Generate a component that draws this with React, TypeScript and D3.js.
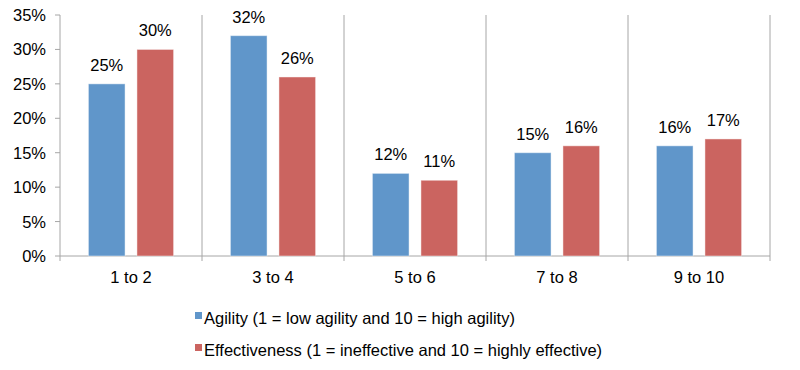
import React from "react";
import * as d3 from "d3";

const categories = ["1 to 2", "3 to 4", "5 to 6", "7 to 8", "9 to 10"];
const agility = [25, 32, 12, 15, 16];
const effectiveness = [30, 26, 11, 16, 17];
const yTicks = [0, 5, 10, 15, 20, 25, 30, 35];
const seriesNames = [
  "Agility (1 = low agility and 10 = high agility)",
  "Effectiveness (1 = ineffective and 10 = highly effective)",
];
const colors = ["#6096ca", "#cb6460"];

export default function App() {
  const W = 800, H = 370;
  const left = 60, right = 770, top = 15, bottom = 256;
  const font = "Liberation Sans, Arial, sans-serif";
  const axisColor = "#a6a6a6";
  const fs = 16.5;

  const x = d3.scaleBand<string>().domain(categories).range([left, right]).paddingInner(0).paddingOuter(0);
  const y = d3.scaleLinear().domain([0, 35]).range([bottom, top]);
  const bw = x.bandwidth();
  const inner = d3.scaleBand<number>().domain([0, 1]).range([bw * 0.2, bw * 0.8]).paddingInner(0.245).paddingOuter(0);

  const series = [agility, effectiveness];

  return (
    <svg width={W} height={H} style={{ position: "absolute", left: 0, top: 0, background: "#fff" }} fontFamily={font}>
      {categories.map((c, i) => {
        const xx = (x(c) as number) + bw;
        return <line key={"g" + i} x1={xx} x2={xx} y1={top} y2={bottom + 5} stroke={axisColor} strokeWidth={1} />;
      })}
      <line x1={left} x2={left} y1={top} y2={bottom} stroke={axisColor} strokeWidth={1} />
      {yTicks.map((t) => (
        <g key={"yt" + t}>
          <line x1={left - 5} x2={left} y1={y(t)} y2={y(t)} stroke={axisColor} />
          <text x={46} y={y(t)} dy="0.36em" textAnchor="end" fontSize={fs} fill="#000">{t + "%"}</text>
        </g>
      ))}
      <line x1={left} x2={right} y1={bottom} y2={bottom} stroke={axisColor} strokeWidth={1} />
      <line x1={left} x2={left} y1={bottom} y2={bottom + 5} stroke={axisColor} />
      {categories.map((c) => (
        <text key={"xl" + c} x={(x(c) as number) + bw / 2} y={283} textAnchor="middle" fontSize={fs} fill="#000">{c}</text>
      ))}
      {series.map((vals, s) =>
        vals.map((v, i) => {
          const bx = (x(categories[i]) as number) + (inner(s) as number);
          const by = y(v);
          return (
            <g key={"b" + s + "-" + i}>
              <rect x={bx} y={by} width={inner.bandwidth()} height={bottom - by} fill={colors[s]} stroke="#ffffff" strokeOpacity={0.45} strokeWidth={1} />
              <text x={bx + inner.bandwidth() / 2} y={by - 13} textAnchor="middle" fontSize={fs} fill="#000">{v + "%"}</text>
            </g>
          );
        })
      )}
      {seriesNames.map((n, i) => (
        <g key={"lg" + i}>
          <rect x={195} y={312 + i * 32} width={7} height={7} fill={colors[i]} />
          <text x={204} y={324 + i * 32} fontSize={fs} fill="#000">{n}</text>
        </g>
      ))}
    </svg>
  );
}
